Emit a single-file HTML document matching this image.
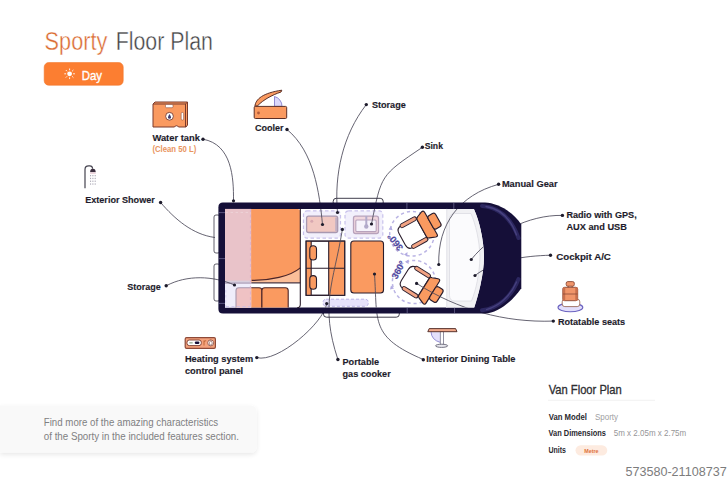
<!DOCTYPE html>
<html><head><meta charset="utf-8">
<style>
html,body{margin:0;padding:0;background:#fff;}
body{width:728px;height:480px;overflow:hidden;position:relative;}
svg{position:absolute;left:0;top:0;}
text{font-family:"Liberation Sans",sans-serif;}
.lb{font-weight:bold;font-size:9.9px;fill:#1e1c2c;stroke:#1e1c2c;stroke-width:0.15px;}
.ln{fill:none;stroke:#4a4858;stroke-width:0.85;}
.dot{fill:#1e1c2c;}
</style></head>
<body>
<svg width="728" height="480" viewBox="0 0 728 480">
<defs>
  <filter id="sh" x="-10%" y="-30%" width="120%" height="170%">
    <feGaussianBlur in="SourceAlpha" stdDeviation="2.5"/>
    <feOffset dy="2"/>
    <feComponentTransfer><feFuncA type="linear" slope="0.10"/></feComponentTransfer>
    <feMerge><feMergeNode/><feMergeNode in="SourceGraphic"/></feMerge>
  </filter>
  <clipPath id="inner"><path d="M225,208.9 H473.9 C479,220 483.5,238 484,256 C484,275 478,296 474.2,307.6 H225 Z"/></clipPath>
</defs>

<!-- ===== TITLE ===== -->
<text x="44.6" y="49.7" font-size="25" fill="#DA6A30" stroke="#fff" stroke-width="0.4" textLength="62.7" lengthAdjust="spacingAndGlyphs">Sporty</text>
<text x="115.7" y="49.7" font-size="25" fill="#444446" stroke="#fff" stroke-width="0.4" textLength="97.2" lengthAdjust="spacingAndGlyphs">Floor Plan</text>
<rect x="44.2" y="62.6" width="79" height="22.6" rx="4.5" fill="#FC7E31" stroke="#F27528" stroke-width="0.6"/>
<g fill="#fff" stroke="#fff">
  <circle cx="69.6" cy="73.8" r="2.4" stroke="none"/>
  <g stroke-width="0.9" stroke-linecap="round">
    <line x1="69.6" y1="68.9" x2="69.6" y2="69.9"/><line x1="69.6" y1="77.7" x2="69.6" y2="78.7"/>
    <line x1="64.7" y1="73.8" x2="65.7" y2="73.8"/><line x1="73.5" y1="73.8" x2="74.5" y2="73.8"/>
    <line x1="66.1" y1="70.3" x2="66.8" y2="71.0"/><line x1="72.4" y1="76.6" x2="73.1" y2="77.3"/>
    <line x1="66.1" y1="77.3" x2="66.8" y2="76.6"/><line x1="72.4" y1="71.0" x2="73.1" y2="70.3"/>
  </g>
</g>
<text x="81.7" y="79.7" font-size="13" fill="#fff" stroke="#fff" stroke-width="0.35" textLength="20.3" lengthAdjust="spacingAndGlyphs">Day</text>

<!-- ===== POINTER LINES (under van) ===== -->
<g class="ln">
  <path d="M203,139.2 C231.9,144.4 233.7,177.7 233.5,200.5"/>
  <path d="M287,129.5 C313.9,151.6 319.4,192.4 322.5,224.5"/>
  <path d="M366.3,104.6 C342.7,134.9 334.1,174.7 337.5,212.5"/>
  <path d="M422.4,147.3 C380.2,175.7 381.4,174.9 371.5,224"/>
  <path d="M498.6,184.3 C459.4,195.1 437.6,224.0 438.75,264.5"/>
  <path d="M562.4,215.4 C528.5,214.7 492.1,233.7 471.25,259.5"/>
  <path d="M550.5,255.2 C524.9,256.0 496.1,259.5 475,275.5"/>
  <path d="M553.3,321.1 C504.2,322.7 457.9,309.7 416.6,283.4"/>
  <path d="M423.3,359.5 C370.1,336.9 377.7,321.7 374.5,274"/>
  <path d="M337.9,359.5 C319.7,304.3 333.4,283.7 342.4,229.4"/>
  <path d="M256.8,357.6 C277.4,363.2 323.8,322.9 326.7,303.6"/>
  <path d="M166.2,285.8 C187.0,274.6 213.2,275.8 234.5,285"/>
  <path d="M160.6,202.5 C174.7,218.9 192.5,234.6 215,237.5"/>
</g>

<!-- ===== VAN ===== -->
<g id="van">
  <!-- rails -->
  <rect x="333.2" y="198.3" width="50" height="10" rx="3" fill="none" stroke="#2a2838" stroke-width="0.9"/>
  <rect x="323.5" y="303" width="75.8" height="14.2" rx="3" fill="none" stroke="#2a2838" stroke-width="0.9"/>
  <!-- left doors -->
  <rect x="214" y="215" width="6" height="38" rx="2" fill="none" stroke="#3a3848" stroke-width="0.8"/>
  <rect x="214" y="264" width="6" height="37" rx="2" fill="none" stroke="#3a3848" stroke-width="0.8"/>
  <!-- body -->
  <path d="M223,202.6 H485 C497,203 512,211 521.3,224.5 V288.3 C512,302 497,313.2 485,313.6 H223 Q218.4,313.6 218.4,309 V207.2 Q218.4,202.6 223,202.6 Z" fill="#150F38"/>
  <!-- interior -->
  <path d="M225,208.9 H473.9 C479,220 483.5,238 484,256 C484,275 478,296 474.2,307.6 H225 Z" fill="#fff"/>
  <!-- cab floor -->
  <path d="M446,208.9 H473.9 C479,220 483.5,238 484,256 C484,275 478,296 474.2,307.6 H446 Z" fill="#F1F1F4"/>
  <line x1="446.8" y1="208.9" x2="446.8" y2="307.6" stroke="#E2E2E8" stroke-width="0.8"/>
  <path d="M455,213.5 H471 C475.5,224 479.5,240 480,257 C479.5,274 476,290 471.5,301 H455 Q449.5,301 449.5,295.5 V219 Q449.5,213.5 455,213.5 Z" fill="#FBFBFD" stroke="#DCDCE2" stroke-width="0.8"/>
  <!-- panel seams -->
  <g stroke="#8A86B0" stroke-width="0.7" opacity="0.8">
    <line x1="406.9" y1="203" x2="406.9" y2="208.9"/><line x1="453.8" y1="203" x2="453.8" y2="208.9"/>
    <line x1="407.2" y1="307.6" x2="407.2" y2="313.2"/><line x1="454.6" y1="307.6" x2="454.6" y2="313.2"/>
    <line x1="218.6" y1="212.6" x2="225" y2="212.6"/><line x1="218.6" y1="258.6" x2="225" y2="258.6"/><line x1="218.6" y1="303.4" x2="225" y2="303.4"/>
  </g>
  <!-- windshield highlights -->
  <path d="M482,206 C497,207 510,215 518.5,238" fill="none" stroke="#2C2760" stroke-width="4" stroke-linecap="round"/>
  <path d="M486,206.5 C499,208.5 510,217 516.5,235" fill="none" stroke="#47417E" stroke-width="1.3" stroke-linecap="round"/>
  <path d="M518.5,279 C512,296 499,308 482,310.2" fill="none" stroke="#2C2760" stroke-width="4" stroke-linecap="round"/>
  <path d="M516.5,282 C510.5,296 499,306 486.5,309.6" fill="none" stroke="#47417E" stroke-width="1.3" stroke-linecap="round"/>

  <!-- bed -->
  <path d="M251,208.9 H297.5 Q300.3,208.9 300.3,211.9 V282.8 H251 Z" fill="#FA9A60"/>
  <path d="M251.6,280.4 C270,280.4 290,276.5 300.3,267.8 V282.8 H251.6 Z" fill="#FBBE98"/>
  <path d="M251.6,280.4 C270,280.4 290,276.5 300.3,267.8" fill="none" stroke="#4a2428" stroke-width="1.1"/>
  <line x1="251" y1="282.9" x2="300.3" y2="282.9" stroke="#4A3A48" stroke-width="1.4"/>
  <!-- right bed frame -->
  <path d="M300.3,208.9 V304.5 Q300.3,307.6 297.3,307.6" fill="none" stroke="#2a1d2c" stroke-width="1.1"/>
  <!-- cushions -->
  <path d="M236,307.6 V290.5 Q236,287.7 238.8,287.7 H259.1 Q261.9,287.7 261.9,290.5 V307.6" fill="#FA9A60" stroke="#4a2428" stroke-width="1.1"/>
  <path d="M261.9,307.6 V290.5 Q261.9,287.7 264.7,287.7 H285.4 Q288.2,287.7 288.2,290.5 V307.6" fill="#FA9A60" stroke="#4a2428" stroke-width="1.1"/>
  <!-- storage column -->
  <rect x="225" y="208.9" width="26.2" height="74" fill="#E9C3C9"/>
  <rect x="225" y="282.9" width="26.2" height="24.7" fill="#EFEDFB"/>
  <rect x="225" y="280.6" width="26.2" height="3.4" fill="#D8CEDC"/>
  <line x1="225" y1="283" x2="251.2" y2="283" stroke="#ADA2BE" stroke-width="1.1"/>
  <path d="M251.2,307.6 V290.5 H238.8 Q236,290.5 236,290.5" fill="none"/>
  <path d="M236,307.6 V290.5 Q236,287.7 238.8,287.7 H251.2 V307.6 Z" fill="#EFC2C4" stroke="none"/>
  <path d="M236,307.6 V290.5 Q236,287.7 238.8,287.7 H251.2" fill="none" stroke="#A898AE" stroke-width="1.1"/>
  <line x1="250.4" y1="209" x2="250.4" y2="307" stroke="#DDB0CC" stroke-width="1" stroke-dasharray="3,2.5"/>
  <line x1="225.5" y1="212.4" x2="250.4" y2="212.4" stroke="#EFD6DC" stroke-width="0.8" stroke-dasharray="2.5,2.5"/>
  <path d="M225.8,290 V307" stroke="#D6D0F2" stroke-width="1" stroke-dasharray="2.5,2.5"/>
  <line x1="226" y1="306.8" x2="250.4" y2="306.8" stroke="#C6BEEC" stroke-width="1" stroke-dasharray="3,2.5"/>

  <!-- cooler unit -->
  <rect x="303.5" y="210.8" width="37" height="27.3" rx="3.5" fill="#F2F0FC" stroke="#C9C2EC" stroke-width="1.2" stroke-dasharray="3.5,2.5"/>
  <rect x="306.6" y="216.2" width="31.1" height="16.3" rx="2" fill="#F1C8C2" stroke="#A898B0" stroke-width="1.3"/>
  <circle cx="311.8" cy="221.2" r="1.5" fill="#D8A8B0"/>
  <rect x="335.2" y="217.5" width="1.8" height="13.8" fill="#C0B0C4"/>
  <!-- sink unit -->
  <rect x="345" y="210.8" width="37.8" height="27.3" rx="3.5" fill="#F2F0FC" stroke="#C9C2EC" stroke-width="1.2" stroke-dasharray="3.5,2.5"/>
  <rect x="353.5" y="216.2" width="25" height="17.3" rx="2" fill="#F0D6DE" stroke="#B8A2BC" stroke-width="1.3"/>
  <rect x="355.8" y="220" width="20.4" height="11.6" rx="1" fill="#F6F3FB" stroke="#B8A2BC" stroke-width="1.1"/>
  <rect x="365.3" y="216" width="2" height="9" fill="#B2AACA"/>
  <circle cx="366.3" cy="226.5" r="2.2" fill="#B2AACA"/>

  <!-- dinette -->
  <rect x="306.1" y="241.1" width="38.6" height="54.2" fill="#fff" stroke="#2a1d2c" stroke-width="1.1"/>
  <rect x="306.6" y="241.6" width="4.6" height="53.2" fill="#FA9A60"/>
  <rect x="328.7" y="241.6" width="15.5" height="53.2" fill="#FA9A60"/>
  <g stroke="#2a1d2c" stroke-width="1.1" fill="none">
    <line x1="311.2" y1="241.1" x2="311.2" y2="295.3"/>
    <line x1="328.7" y1="241.1" x2="328.7" y2="295.3"/>
    <line x1="306.1" y1="268.2" x2="344.7" y2="268.2"/>
    <rect x="306.1" y="241.1" width="38.6" height="54.2"/>
  </g>
  <rect x="309.8" y="245.8" width="6.7" height="14.2" rx="3.3" fill="#FA9A60" stroke="#2a1d2c" stroke-width="1.1"/>
  <rect x="309.8" y="275.6" width="6.7" height="13.6" rx="3.3" fill="#FA9A60" stroke="#2a1d2c" stroke-width="1.1"/>
  <!-- table -->
  <rect x="350.8" y="241" width="32.7" height="52" rx="3" fill="#FA9A60" stroke="#2a1d2c" stroke-width="1.1"/>
  <!-- gas cooker pill -->
  <rect x="323" y="299.2" width="45.3" height="7.1" rx="3" fill="#E6E2FA" stroke="#BDB6E8" stroke-width="1" stroke-dasharray="3,2"/>

  <!-- swivel circles -->
  <circle cx="412" cy="233.8" r="22.3" fill="none" stroke="#BAB4E4" stroke-width="1.5" stroke-dasharray="3.2,3"/>
  <circle cx="414" cy="282" r="21.6" fill="none" stroke="#BAB4E4" stroke-width="1.5" stroke-dasharray="3.2,3"/>
  <g fill="#B2ABE2">
    <path d="M388.6,229.5 L391.2,226.2 L392.6,230.2 Z"/>
    <path d="M404,254.4 L407.5,252 L407.2,256.4 Z"/>
    <path d="M405,261.8 L408.6,259.6 L408.6,264 Z"/>
    <path d="M391,285.5 L394,288.5 L390,289.5 Z"/>
  </g>
  <text transform="translate(395.3,242) rotate(-129)" font-size="9.2" font-weight="bold" fill="#5048A0" stroke="#5048A0" stroke-width="0.2" text-anchor="middle" dominant-baseline="central">360°</text>
  <text transform="translate(398.6,270) rotate(-61.5)" font-size="9.2" font-weight="bold" fill="#5048A0" stroke="#5048A0" stroke-width="0.2" text-anchor="middle" dominant-baseline="central">360°</text>

  <!-- seats -->
  <g id="seat1" transform="translate(414,232.7) rotate(-29)">
    <path d="M9,-12.5 H-7.5 Q-13.5,-12.5 -13.5,-6.5 V6.5 Q-13.5,12.5 -7.5,12.5 H9 Z" fill="#fff" stroke="#2a1d2c" stroke-width="1.1"/>
    <rect x="-9" y="-13.9" width="18" height="3.9" rx="1.95" fill="#F2A383" stroke="#2a1d2c" stroke-width="0.9"/>
    <rect x="-9" y="9.8" width="18" height="3.9" rx="1.95" fill="#F2A383" stroke="#2a1d2c" stroke-width="0.9"/>
    <path d="M9,-9.6 Q9,-11.6 10.9,-12.2 L16.6,-14.5 Q19.1,-15.3 19.2,-12.8 L19.4,12.6 Q19.4,15.1 17,14.4 L10.9,12 Q9,11.4 9,9.6 Z" fill="#FA9A60" stroke="#2a1d2c" stroke-width="1.15" stroke-linejoin="round"/>
    <rect x="19.2" y="-7.8" width="8.6" height="15.2" rx="2.4" fill="#FA9A60" stroke="#2a1d2c" stroke-width="1.15"/>
  </g>
  <g id="seat2" transform="translate(416.25,282.2) rotate(32)">
    <path d="M9,-12.5 H-7.5 Q-13.5,-12.5 -13.5,-6.5 V6.5 Q-13.5,12.5 -7.5,12.5 H9 Z" fill="#fff" stroke="#2a1d2c" stroke-width="1.1"/>
    <rect x="-9" y="-13.9" width="18" height="3.9" rx="1.95" fill="#F2A383" stroke="#2a1d2c" stroke-width="0.9"/>
    <rect x="-9" y="9.8" width="18" height="3.9" rx="1.95" fill="#F2A383" stroke="#2a1d2c" stroke-width="0.9"/>
    <path d="M9,-9.6 Q9,-11.6 10.9,-12.2 L16.6,-14.5 Q19.1,-15.3 19.2,-12.8 L19.4,12.6 Q19.4,15.1 17,14.4 L10.9,12 Q9,11.4 9,9.6 Z" fill="#FA9A60" stroke="#2a1d2c" stroke-width="1.15" stroke-linejoin="round"/>
    <rect x="19.2" y="-7.8" width="8.6" height="15.2" rx="2.4" fill="#FA9A60" stroke="#2a1d2c" stroke-width="1.15"/>
  </g>
</g>

<!-- inner line segments over van interior -->
<g class="ln" clip-path="url(#inner)">
  <path d="M498.6,184.3 C459.4,195.1 437.6,224.0 438.75,264.5"/>
  <path d="M562.4,215.4 C528.5,214.7 492.1,233.7 471.25,259.5"/>
  <path d="M550.5,255.2 C524.9,256.0 496.1,259.5 475,275.5"/>
  <path d="M553.3,321.1 C504.2,322.7 457.9,309.7 416.6,283.4"/>
  <path d="M423.3,359.5 C370.1,336.9 377.7,321.7 374.5,274"/>
  <path d="M337.9,359.5 C319.7,304.3 333.4,283.7 342.4,229.4"/>
  <path d="M256.8,357.6 C277.4,363.2 323.8,322.9 326.7,303.6"/>
  <path d="M166.2,285.8 C187.0,274.6 213.2,275.8 234.5,285"/>
  <path d="M287,129.5 C313.9,151.6 319.4,192.4 322.5,224.5"/>
  <path d="M366.3,104.6 C342.7,134.9 334.1,174.7 337.5,212.5"/>
  <path d="M422.4,147.3 C380.2,175.7 381.4,174.9 371.5,224"/>
</g>

<!-- dots -->
<g class="dot">
  <circle cx="203" cy="139.2" r="1.7"/><circle cx="287" cy="129.5" r="1.7"/>
  <circle cx="366.3" cy="104.6" r="1.7"/><circle cx="422.4" cy="147.3" r="1.7"/>
  <circle cx="498.6" cy="184.3" r="1.7"/><circle cx="562.4" cy="215.4" r="1.7"/>
  <circle cx="550.5" cy="255.2" r="1.7"/><circle cx="553.3" cy="321.1" r="1.7"/>
  <circle cx="423.3" cy="359.8" r="1.7"/><circle cx="337.9" cy="359.5" r="1.7"/>
  <circle cx="256.8" cy="357.6" r="1.7"/><circle cx="166.2" cy="285.8" r="1.7"/>
  <circle cx="160.6" cy="202.5" r="1.7"/>
  <!-- inner -->
  <circle cx="233.5" cy="200.8" r="1.6"/><circle cx="322.5" cy="224.5" r="1.6"/>
  <circle cx="337.5" cy="212.5" r="1.6"/><circle cx="371.5" cy="224" r="1.6"/>
  <circle cx="438.75" cy="264.5" r="1.6"/><circle cx="471.25" cy="259.5" r="1.6"/>
  <circle cx="475" cy="275.5" r="1.6"/><circle cx="416.6" cy="283.4" r="1.6"/>
  <circle cx="374.5" cy="274" r="1.6"/><circle cx="342.4" cy="229.4" r="1.6"/>
  <circle cx="326.7" cy="303.6" r="1.6"/><circle cx="234.5" cy="285" r="1.6"/>
</g>

<!-- ===== LABELS ===== -->
<g class="lb">
  <text x="152.4" y="141.3" textLength="47.6" lengthAdjust="spacingAndGlyphs">Water tank</text>
  <text x="254.9" y="130.8" textLength="28.6" lengthAdjust="spacingAndGlyphs">Cooler</text>
  <text x="371.9" y="107.5" textLength="33.9" lengthAdjust="spacingAndGlyphs">Storage</text>
  <text x="424.7" y="148.8" textLength="18.3" lengthAdjust="spacingAndGlyphs">Sink</text>
  <text x="501.9" y="186.5" textLength="55.7" lengthAdjust="spacingAndGlyphs">Manual Gear</text>
  <text x="566.4" y="218" textLength="70.3" lengthAdjust="spacingAndGlyphs">Radio with GPS,</text>
  <text x="566.4" y="229.5" textLength="60.5" lengthAdjust="spacingAndGlyphs">AUX and USB</text>
  <text x="556.2" y="259.8" textLength="54.7" lengthAdjust="spacingAndGlyphs">Cockpit A/C</text>
  <text x="557.9" y="325.1" textLength="67.3" lengthAdjust="spacingAndGlyphs">Rotatable seats</text>
  <text x="426.3" y="361.5" textLength="89.2" lengthAdjust="spacingAndGlyphs">Interior Dining Table</text>
  <text x="342.5" y="365.3" textLength="36.6" lengthAdjust="spacingAndGlyphs">Portable</text>
  <text x="342.5" y="377.1" textLength="48.2" lengthAdjust="spacingAndGlyphs">gas cooker</text>
  <text x="184.9" y="361.5" textLength="68.2" lengthAdjust="spacingAndGlyphs">Heating system</text>
  <text x="184.9" y="373.9" textLength="58.3" lengthAdjust="spacingAndGlyphs">control panel</text>
  <text x="127.3" y="289.8" textLength="33.5" lengthAdjust="spacingAndGlyphs">Storage</text>
  <text x="85.2" y="203.3" textLength="69.6" lengthAdjust="spacingAndGlyphs">Exterior Shower</text>
</g>
<text x="152.4" y="152.4" font-size="8.8" font-weight="bold" fill="#E9955F" textLength="43.9" lengthAdjust="spacingAndGlyphs">(Clean 50 L)</text>

<!-- ===== ICONS ===== -->
<!-- water tank -->
<g id="watertank">
  <path d="M153,104 L155,102 H187.5 V125 L186,127 H178.5 A2.2,2.2 0 0 0 174.5,127 H153 Z" fill="#FA9A60" stroke="#7A3A2C" stroke-width="1"/>
  <path d="M153,104 H185.5 V127" fill="none" stroke="#7A3A2C" stroke-width="1"/>
  <path d="M185.5,104 L187.5,102 M185.5,104" stroke="#7A3A2C" stroke-width="1"/>
  <rect x="165.5" y="104.5" width="7.5" height="3.2" rx="1" fill="#fff" stroke="#7A3A2C" stroke-width="0.5"/>
  <rect x="181.2" y="112.5" width="2.4" height="7.5" rx="1" fill="#fff" stroke="#7A3A2C" stroke-width="0.5"/>
  <circle cx="169.5" cy="116.3" r="3.9" fill="#fff" stroke="#7A3A2C" stroke-width="0.9"/>
  <path d="M169.5,114 Q171,116.3 171,117.2 A1.5,1.5 0 0 1 168,117.2 Q168,116.3 169.5,114 Z" fill="#3B3A70"/>
</g>
<!-- cooler -->
<g id="cooler">
  <path d="M274.5,96.5 A10,10 0 0 1 282,106.4 H274.5 Z" fill="#DCD8FA" stroke="#7A72C8" stroke-width="0.8"/>
  <path d="M254.9,106.4 C255.5,99 263,93 281.8,90.2 L281,92 C272,95 263,100 257.8,105.6 Z" fill="#FA9A60" stroke="#5A2E26" stroke-width="1" stroke-linejoin="round"/>
  <rect x="254.2" y="106.4" width="32.5" height="12.1" rx="1.2" fill="#FA9A60" stroke="#5A2E26" stroke-width="1"/>
  <circle cx="258.5" cy="113" r="1.4" fill="#B25A3A"/>
</g>
<!-- shower -->
<g id="shower">
  <path d="M85,188.3 V169.5 Q85,165.9 88.6,165.9 H89.8 Q92.4,165.9 92.6,168.8" fill="none" stroke="#45434F" stroke-width="1.2"/>
  <path d="M90.1,172.2 Q90.1,168.8 92.9,168.8 Q95.7,168.8 95.7,172.2 Z" fill="#3A2E3E"/>
  <rect x="90.1" y="172.3" width="5.6" height="1.8" fill="#EED6DE"/>
  <g stroke="#8E8A9C" stroke-width="0.8" stroke-dasharray="1.3,1.5">
    <line x1="90.6" y1="175" x2="90.6" y2="186"/><line x1="92.9" y1="175" x2="92.9" y2="186"/><line x1="95.2" y1="175" x2="95.2" y2="186"/>
  </g>
</g>
<!-- heating panel -->
<g id="heat">
  <rect x="185.2" y="337.6" width="30.2" height="10.8" rx="1.4" fill="#F4A27C" stroke="#8E4A38" stroke-width="1.2"/>
  <rect x="187" y="340" width="14.3" height="5.6" rx="2.3" fill="#fff" stroke="#7A3A2C" stroke-width="0.9"/>
  <rect x="189.6" y="342" width="1" height="1.6" fill="#6A8A6A"/>
  <rect x="191.4" y="342" width="1" height="1.6" fill="#6A8A6A"/>
  <rect x="194.8" y="341.6" width="4.6" height="2.4" rx="1.2" fill="#150F38"/>
  <path d="M204,340.5 V345.5 M204,341.5 Q205,340.6 206.2,340.8" fill="none" stroke="#B8602E" stroke-width="0.9"/>
  <circle cx="210.7" cy="342.9" r="3" fill="#fff" stroke="#7A3A2C" stroke-width="0.7"/>
  <path d="M210.7,340.5 Q212.6,342.5 212.2,344 A1.6,1.6 0 0 1 209.2,344 Q209,342.6 210.7,340.5Z" fill="#fff" stroke="#7A3A2C" stroke-width="0.6"/>
</g>
<!-- table icon -->
<g id="tableicon">
  <path d="M431,331.8 Q431.5,340 440.3,342.4 V331.8 Z" fill="#E4E0FB"/>
  <path d="M431,331.8 Q431.5,340 440.3,342.4" fill="none" stroke="#7A72C8" stroke-width="0.8"/>
  <rect x="440.3" y="331.6" width="3.3" height="13.2" fill="#fff" stroke="#77758A" stroke-width="0.8"/>
  <ellipse cx="441.6" cy="345.8" rx="6.1" ry="1.6" fill="#E8E8EE" stroke="#6A6878" stroke-width="0.9"/>
  <path d="M429.2,328.6 H455.6 L457,331.7 H427.8 Z" fill="#F0A88A" stroke="#4A2420" stroke-width="0.9" stroke-linejoin="round"/>
</g>
<!-- seat icon -->
<g id="seaticon">
  <ellipse cx="570.4" cy="307.4" rx="12.4" ry="4.3" fill="#E2DEFB" stroke="#6A62C0" stroke-width="1.1"/>
  <rect x="562.2" y="299.2" width="17.6" height="7.4" rx="2.6" fill="#fff" stroke="#9A6A5A" stroke-width="0.9"/>
  <rect x="567.6" y="285.5" width="1.2" height="2.5" fill="#9A5A44"/>
  <rect x="571.6" y="285.5" width="1.2" height="2.5" fill="#9A5A44"/>
  <rect x="562.8" y="287.3" width="14.9" height="13.4" rx="1.8" fill="#F0956A" stroke="#8A4A38" stroke-width="0.9"/>
  <rect x="562.8" y="287.3" width="2.4" height="13.4" rx="1" fill="#C8704E"/>
  <rect x="575.3" y="287.3" width="2.4" height="13.4" rx="1" fill="#C8704E"/>
  <line x1="563" y1="294" x2="577.5" y2="294" stroke="#8A4A38" stroke-width="0.8"/>
  <rect x="566.2" y="281.6" width="8.1" height="4.6" rx="1.6" fill="#F0956A" stroke="#8A4A38" stroke-width="0.9"/>
</g>

<!-- ===== INFO BOX ===== -->
<g filter="url(#sh)">
  <path d="M0,405.5 H250.5 Q256.5,405.5 256.5,411.5 V446.5 Q256.5,452.5 250.5,452.5 H0 Z" fill="#F9F9F9"/>
</g>
<text x="43.8" y="425.9" font-size="10" fill="#808082" textLength="174.4" lengthAdjust="spacingAndGlyphs">Find more of the amazing characteristics</text>
<text x="43.8" y="439.6" font-size="10" fill="#808082" textLength="195.2" lengthAdjust="spacingAndGlyphs">of the Sporty in the included features section.</text>

<!-- ===== RIGHT INFO ===== -->
<text x="548.7" y="393.5" font-size="12.4" fill="#2e2e32" stroke="#2e2e32" stroke-width="0.3" textLength="73.1" lengthAdjust="spacingAndGlyphs">Van Floor Plan</text>
<line x1="548" y1="400.3" x2="655" y2="400.3" stroke="#EDEDED" stroke-width="0.8"/>
<text x="548.7" y="419.6" font-size="8.8" font-weight="bold" fill="#2a2a30" textLength="38.3" lengthAdjust="spacingAndGlyphs">Van Model</text>
<text x="595" y="419.6" font-size="8.8" fill="#a0a0a2" textLength="23.1" lengthAdjust="spacingAndGlyphs">Sporty</text>
<text x="548.5" y="436.4" font-size="8.8" font-weight="bold" fill="#2a2a30" textLength="57.5" lengthAdjust="spacingAndGlyphs">Van Dimensions</text>
<text x="613.8" y="436.4" font-size="8.8" fill="#959597" textLength="72.4" lengthAdjust="spacingAndGlyphs">5m x 2.05m x 2.75m</text>
<text x="548.5" y="453.2" font-size="8.8" font-weight="bold" fill="#2a2a30" textLength="17.5" lengthAdjust="spacingAndGlyphs">Units</text>
<rect x="575.5" y="445.2" width="31.7" height="10.4" rx="5.2" fill="#FDEBE0"/>
<text x="584.3" y="452.6" font-size="5.6" font-weight="bold" fill="#E0703A" textLength="14.3" lengthAdjust="spacingAndGlyphs">Metre</text>

<!-- watermark -->
<text x="625.4" y="475.7" font-size="13" fill="#7c7c7c" textLength="101.3" lengthAdjust="spacingAndGlyphs">573580-21108737</text>
</svg>
</body></html>
